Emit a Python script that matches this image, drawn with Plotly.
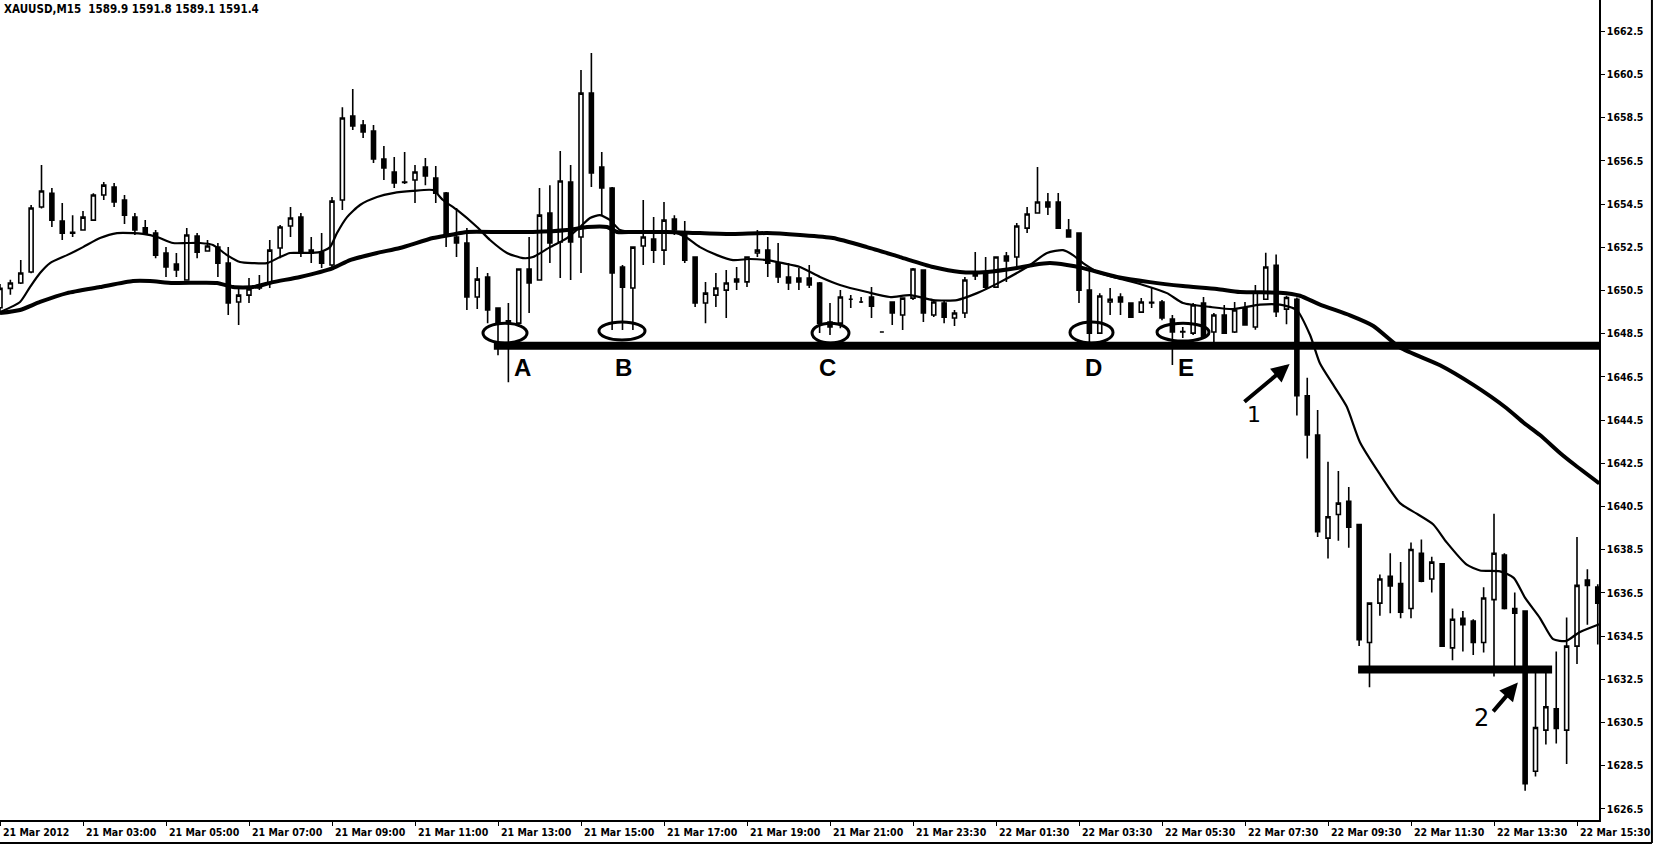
import plotly.graph_objects as go

# ---------------- data ----------------
bar_index = list(range(155))

opens = [1649.7, 1650.6, 1650.85, 1651.36, 1654.37, 1655.0, 1653.72, 1653.2, 1653.3, 1653.76,
         1654.92, 1655.29, 1654.69, 1653.9, 1653.4, 1653.16, 1652.24, 1651.73, 1650.99, 1653.02,
         1652.33, 1652.51, 1651.77, 1649.97, 1650.29, 1650.76, 1650.85, 1652.47, 1653.49, 1653.9,
         1652.37, 1652.28, 1651.68, 1654.69, 1658.58, 1658.16, 1657.88, 1656.59, 1655.99, 1655.52,
         1655.62, 1656.22, 1655.71, 1655.01, 1652.98, 1652.7, 1650.2, 1651.13, 1649.69, 1648.99,
         1648.99, 1651.5, 1650.99, 1654.09, 1652.75, 1655.52, 1652.98, 1659.64, 1656.22, 1655.25,
         1651.59, 1650.62, 1652.56, 1652.88, 1652.37, 1653.81, 1653.21, 1652.05, 1649.92, 1650.29,
         1650.52, 1650.9, 1650.9, 1652.24, 1652.37, 1651.77, 1651.13, 1651.08, 1651.08, 1650.85,
         1649.04, 1648.99, 1650.1, 1649.97, 1650.2, 1648.58, 1649.97, 1649.37, 1650.15, 1651.45,
         1649.37, 1649.92, 1649.23, 1649.46, 1651.17, 1651.31, 1650.66, 1652.1, 1652.05, 1653.39,
         1654.09, 1654.6, 1654.6, 1653.3, 1653.16, 1650.52, 1648.53, 1649.97, 1650.2, 1649.92,
         1649.5, 1649.92, 1649.97, 1649.18, 1648.58, 1648.53, 1649.92, 1648.58, 1649.37, 1648.58,
         1649.69, 1648.81, 1650.1, 1651.67, 1649.64, 1650.1, 1645.63, 1643.81, 1639.04, 1640.13,
         1640.74, 1639.67, 1634.21, 1636.03, 1637.27, 1636.94, 1635.78, 1638.34, 1637.15, 1637.85,
         1633.96, 1635.33, 1635.2, 1634.21, 1636.19, 1638.26, 1635.78, 1635.66, 1628.25, 1630.15,
         1631.14, 1630.15, 1634.04, 1637.1, 1636.77]

highs = [1650.8, 1651.0, 1651.91, 1654.46, 1656.31, 1655.25, 1654.55, 1653.99, 1654.18, 1655.0,
         1655.52, 1655.48, 1654.92, 1654.09, 1653.76, 1653.3, 1652.51, 1652.24, 1653.39, 1653.16,
         1652.84, 1652.7, 1652.51, 1650.66, 1651.08, 1651.22, 1652.84, 1653.53, 1654.37, 1654.09,
         1652.98, 1653.16, 1654.83, 1658.99, 1659.83, 1658.39, 1658.16, 1657.19, 1656.68, 1656.91,
         1656.31, 1656.63, 1656.26, 1655.06, 1654.32, 1653.39, 1651.59, 1651.31, 1649.69, 1649.92,
         1651.5, 1652.98, 1655.25, 1655.38, 1656.96, 1656.31, 1660.71, 1661.5, 1656.91, 1655.29,
         1651.68, 1652.51, 1654.69, 1653.9, 1654.6, 1653.99, 1653.72, 1652.05, 1650.9, 1651.31,
         1651.45, 1651.59, 1652.05, 1653.3, 1652.98, 1652.7, 1651.77, 1651.54, 1651.68, 1650.9,
         1649.92, 1650.52, 1650.29, 1650.2, 1650.66, 1648.58, 1649.97, 1650.15, 1651.54, 1651.45,
         1650.06, 1650.06, 1649.6, 1651.13, 1652.28, 1652.05, 1652.05, 1652.28, 1653.63, 1654.37,
         1656.22, 1655.01, 1655.01, 1653.81, 1653.16, 1651.45, 1650.38, 1650.62, 1650.38, 1649.92,
         1650.15, 1650.62, 1650.06, 1649.37, 1648.81, 1649.92, 1650.2, 1649.46, 1649.83, 1649.97,
         1649.97, 1650.76, 1652.25, 1652.17, 1650.26, 1650.18, 1646.46, 1644.97, 1642.57, 1642.15,
         1641.41, 1639.67, 1636.03, 1637.35, 1638.34, 1637.93, 1638.84, 1638.97, 1638.18, 1637.85,
         1635.78, 1635.66, 1635.28, 1636.77, 1640.17, 1638.34, 1636.52, 1635.7, 1632.88, 1632.8,
         1633.79, 1635.36, 1639.09, 1637.6, 1636.9]

lows = [1649.4, 1650.3, 1650.8, 1651.3, 1654.3, 1653.44, 1652.84, 1652.98, 1653.3, 1653.76,
        1654.69, 1654.37, 1653.58, 1653.07, 1653.07, 1652.0, 1651.13, 1651.13, 1650.99, 1652.0,
        1652.33, 1651.13, 1649.37, 1648.9, 1649.92, 1650.52, 1650.62, 1652.0, 1652.98, 1652.05,
        1651.77, 1651.54, 1651.59, 1654.23, 1657.93, 1657.56, 1656.4, 1655.62, 1655.25, 1655.43,
        1654.55, 1655.38, 1654.55, 1652.51, 1652.05, 1649.6, 1649.64, 1648.99, 1647.51, 1646.26,
        1648.81, 1649.46, 1650.99, 1651.77, 1651.08, 1650.99, 1651.31, 1655.29, 1653.99, 1648.67,
        1648.67, 1648.67, 1651.68, 1651.77, 1651.68, 1653.07, 1651.77, 1649.74, 1648.99, 1649.74,
        1649.23, 1650.52, 1650.66, 1652.05, 1651.13, 1650.85, 1650.52, 1650.52, 1650.62, 1648.53,
        1648.44, 1648.76, 1649.69, 1649.92, 1649.23, 1648.58, 1648.9, 1648.67, 1650.06, 1649.04,
        1649.27, 1648.99, 1648.86, 1649.23, 1650.99, 1650.52, 1650.62, 1650.9, 1651.54, 1653.16,
        1654.09, 1654.0, 1653.39, 1652.98, 1649.92, 1648.12, 1648.53, 1649.37, 1649.37, 1649.27,
        1649.46, 1649.69, 1649.13, 1647.05, 1648.3, 1648.44, 1648.35, 1648.12, 1648.53, 1648.53,
        1648.9, 1648.69, 1650.1, 1649.27, 1648.94, 1644.72, 1642.73, 1639.09, 1638.1, 1638.92,
        1638.59, 1634.04, 1632.14, 1635.45, 1635.56, 1635.33, 1635.33, 1637.0, 1636.52, 1634.04,
        1633.38, 1633.79, 1633.63, 1633.74, 1632.63, 1635.73, 1632.8, 1627.34, 1628.0, 1629.49,
        1629.53, 1628.58, 1633.21, 1635.03, 1634.12]

closes = [1650.6, 1650.85, 1651.31, 1654.32, 1655.11, 1653.76, 1653.16, 1653.15, 1653.9, 1654.92,
          1655.38, 1654.6, 1653.99, 1653.3, 1653.16, 1652.14, 1651.59, 1651.45, 1653.07, 1652.28,
          1652.56, 1651.77, 1649.92, 1650.29, 1650.57, 1650.62, 1652.37, 1653.44, 1653.86, 1652.24,
          1652.24, 1651.77, 1654.64, 1658.49, 1658.12, 1657.84, 1656.59, 1656.17, 1655.48, 1655.5,
          1655.99, 1655.8, 1655.01, 1653.07, 1652.7, 1650.2, 1651.03, 1649.6, 1648.99, 1649.1,
          1651.5, 1650.85, 1653.99, 1652.7, 1655.57, 1652.75, 1659.64, 1655.94, 1655.25, 1651.31,
          1650.66, 1652.51, 1652.98, 1652.37, 1653.76, 1653.3, 1651.91, 1649.92, 1650.38, 1650.62,
          1650.85, 1651.03, 1652.05, 1652.37, 1651.77, 1651.13, 1650.85, 1650.9, 1650.76, 1648.99,
          1648.81, 1650.2, 1650.1, 1649.97, 1649.78, 1648.58, 1649.46, 1650.15, 1651.5, 1649.46,
          1649.97, 1649.27, 1649.46, 1650.99, 1651.27, 1650.66, 1652.05, 1651.87, 1653.49, 1654.04,
          1654.6, 1654.37, 1653.39, 1652.98, 1650.52, 1648.53, 1650.25, 1650.1, 1649.97, 1649.27,
          1649.97, 1649.95, 1649.23, 1648.58, 1648.6, 1649.83, 1648.35, 1649.37, 1648.53, 1649.6,
          1648.91, 1650.43, 1651.59, 1649.52, 1650.18, 1645.63, 1643.81, 1639.34, 1640.03, 1640.66,
          1639.54, 1634.34, 1636.03, 1637.15, 1636.82, 1635.61, 1638.51, 1637.05, 1637.93, 1634.04,
          1635.28, 1635.03, 1634.21, 1636.27, 1638.34, 1635.78, 1635.56, 1627.67, 1630.27, 1631.23,
          1630.23, 1634.04, 1636.85, 1636.85, 1636.03]

# fast moving average (thin line), read at points along the curve
ma_fast_x = [0, 1.93, 2.89, 3.86, 4.82, 6.46, 8.0, 9.64, 11.28, 12.82, 13.78, 15.13, 16.67, 18.02,
             19.28, 20.53, 21.88, 23.13, 24.39, 25.73, 26.99, 27.95, 29.2, 30.84, 31.81, 32.48,
             33.45, 34.7, 36.34, 37.88, 39.8, 41.73, 42.7, 44.05, 45.98, 47.23, 48.87, 50.41,
             51.37, 53.01, 54.65, 55.9, 56.87, 57.83, 58.8, 59.76, 61.01, 62.94, 64.87, 66.22,
             67.47, 69.11, 70.65, 72.29, 73.93, 75.47, 77.11, 79.04, 80.96, 83.57, 85.78, 87.71,
             89.93, 92.24, 94.17, 96.39, 98.99, 100.92, 102.46, 103.42, 104.39, 106.02, 107.66,
             110.17, 112.48, 114.02, 116.63, 118.84, 121.45, 123.37, 124.98, 126.27, 127.23,
             128.51, 129.8, 131.08, 133.01, 134.94, 136.55, 138.15, 139.44, 141.37, 142.65,
             144.58, 145.9, 147.0, 148.43, 149.7, 150.96, 152.2, 154.15]
ma_fast_y = [1649.5, 1649.97, 1650.66, 1651.31, 1651.77, 1652.14, 1652.51, 1652.93, 1653.16, 1653.16,
             1653.12, 1652.98, 1652.7, 1652.7, 1652.7, 1652.61, 1652.14, 1651.82, 1651.77, 1651.77,
             1652.05, 1652.24, 1652.24, 1652.28, 1652.51, 1653.16, 1653.9, 1654.46, 1654.83, 1655.01,
             1655.11, 1655.15, 1654.69, 1654.23, 1653.44, 1652.84, 1652.24, 1652.0, 1652.05, 1652.51,
             1652.93, 1653.44, 1653.86, 1653.99, 1653.76, 1653.3, 1653.21, 1653.21, 1653.21, 1652.93,
             1652.51, 1652.14, 1651.91, 1651.96, 1651.91, 1651.77, 1651.59, 1651.13, 1650.76, 1650.43,
             1650.2, 1650.29, 1650.06, 1650.06, 1650.38, 1650.89, 1651.59, 1652.24, 1652.37, 1652.14,
             1651.77, 1651.31, 1651.08, 1650.76, 1650.38, 1649.92, 1649.74, 1649.64, 1649.85, 1649.85,
             1649.6, 1648.44, 1647.12, 1646.13, 1645.13, 1643.48, 1641.99, 1640.66, 1640.17, 1639.67,
             1638.84, 1637.81, 1637.54, 1637.5, 1637.2, 1636.27, 1635.34, 1634.36, 1634.28, 1634.67,
             1635.05]

# slow moving average (thick line)
ma_slow_x = [0, 1.93, 3.86, 6.46, 9.64, 12.82, 14.46, 16.67, 20.92, 22.46, 24.39, 26.31, 28.92,
             32.1, 33.73, 36.34, 38.55, 41.73, 43.37, 45.01, 48.19, 51.37, 54.65, 56.58, 58.51,
             59.47, 61.01, 64.29, 67.47, 70.65, 73.93, 77.11, 80.29, 83.57, 86.75, 89.93, 92.53,
             95.13, 98.02, 99.57, 101.2, 102.84, 104.39, 107.66, 110.84, 114.02, 117.3, 119.52,
             123.37, 125.3, 127.23, 130.12, 132.37, 134.94, 138.8, 142.01, 145.22, 146.83, 148.43,
             150.36, 151.65, 154.15]
ma_slow_y = [1649.46, 1649.6, 1649.97, 1650.38, 1650.66, 1650.94, 1650.94, 1650.85, 1650.85, 1650.66,
             1650.66, 1650.89, 1651.13, 1651.54, 1651.91, 1652.24, 1652.47, 1652.93, 1653.07, 1653.21,
             1653.21, 1653.21, 1653.3, 1653.44, 1653.44, 1653.21, 1653.21, 1653.21, 1653.16, 1653.12,
             1653.16, 1653.07, 1652.93, 1652.51, 1652.05, 1651.59, 1651.36, 1651.36, 1651.54, 1651.68,
             1651.77, 1651.68, 1651.54, 1651.13, 1650.89, 1650.71, 1650.57, 1650.43, 1650.4, 1650.26,
             1649.85, 1649.35, 1648.86, 1647.86, 1647.04, 1646.13, 1645.05, 1644.39, 1643.81, 1642.98,
             1642.48, 1641.57]

x_tick_bars = [0, 8, 16, 24, 32, 40, 48, 56, 64, 72, 80, 88, 96, 104, 112, 120, 128, 136, 144, 152]
x_tick_labels = ["21 Mar 2012", "21 Mar 03:00", "21 Mar 05:00", "21 Mar 07:00", "21 Mar 09:00",
                 "21 Mar 11:00", "21 Mar 13:00", "21 Mar 15:00", "21 Mar 17:00", "21 Mar 19:00",
                 "21 Mar 21:00", "21 Mar 23:30", "22 Mar 01:30", "22 Mar 03:30", "22 Mar 05:30",
                 "22 Mar 07:30", "22 Mar 09:30", "22 Mar 11:30", "22 Mar 13:30", "22 Mar 15:30"]
y_tick_vals = [1626.5, 1628.5, 1630.5, 1632.5, 1634.5, 1636.5, 1638.5, 1640.5, 1642.5, 1644.5,
               1646.5, 1648.5, 1650.5, 1652.5, 1654.5, 1656.5, 1658.5, 1660.5, 1662.5]

header_text = "XAUUSD,M15  1589.9 1591.8 1589.1 1591.4"

support_level = 1647.95
support_start = 47.6
lower_level = 1632.96
lower_start, lower_end = 130.9, 149.6

ellipse_labels = ["A", "B", "C", "D", "E"]
ellipse_x0 = [46.55, 57.73, 78.27, 103.13, 111.52]
ellipse_x1 = [50.8, 62.17, 81.83, 107.28, 116.53]
ellipse_y0 = [1648.07, 1648.21, 1648.07, 1648.07, 1648.16]
ellipse_y1 = [1648.99, 1649.04, 1648.99, 1649.04, 1648.99]
letter_x = [50.4, 60.05, 79.8, 105.35, 114.3]
letter_y = 1646.95

X_MAX = 154.12
Y_MIN, Y_MAX = 1625.99, 1663.95

# ---------------- figure ----------------
FONT = "DejaVu Sans Condensed, Liberation Sans Narrow, DejaVu Sans, sans-serif"

fig = go.Figure()
fig.add_trace(go.Candlestick(
    x=bar_index, open=opens, high=highs, low=lows, close=closes,
    increasing=dict(line=dict(color="black", width=1.6), fillcolor="white"),
    decreasing=dict(line=dict(color="black", width=1.6), fillcolor="black"),
    whiskerwidth=0, hoverinfo="skip", showlegend=False))

fig.add_trace(go.Scatter(x=ma_slow_x, y=ma_slow_y, mode="lines",
                         line=dict(color="black", width=4, shape="spline", smoothing=0.6),
                         hoverinfo="skip", showlegend=False))
fig.add_trace(go.Scatter(x=ma_fast_x, y=ma_fast_y, mode="lines",
                         line=dict(color="black", width=2.2, shape="spline", smoothing=0.6),
                         hoverinfo="skip", showlegend=False))

shapes = []
shapes.append(dict(type="line", xref="x", yref="y", x0=support_start, x1=X_MAX,
                   y0=support_level, y1=support_level, line=dict(color="black", width=8)))
shapes.append(dict(type="line", xref="x", yref="y", x0=lower_start, x1=lower_end,
                   y0=lower_level, y1=lower_level, line=dict(color="black", width=8)))
for i in range(len(ellipse_labels)):
    shapes.append(dict(type="circle", xref="x", yref="y",
                       x0=ellipse_x0[i], x1=ellipse_x1[i], y0=ellipse_y0[i], y1=ellipse_y1[i],
                       line=dict(color="black", width=3), fillcolor="rgba(0,0,0,0)"))
# outer window frame
shapes.append(dict(type="line", xref="paper", yref="paper", x0=0, x1=1.0331, y0=-0.028, y1=-0.028,
                   line=dict(color="black", width=2)))
shapes.append(dict(type="line", xref="paper", yref="paper", x0=1.0331, x1=1.0331, y0=-0.028, y1=1,
                   line=dict(color="black", width=2)))

annotations = []
for i, lab in enumerate(ellipse_labels):
    annotations.append(dict(x=letter_x[i], y=letter_y, xref="x", yref="y", text="<b>%s</b>" % lab,
                            showarrow=False, font=dict(family="Liberation Sans, Arial", size=24, color="black")))
annotations.append(dict(x=120.9, y=1644.74, xref="x", yref="y", text="1", showarrow=False,
                        font=dict(family="DejaVu Sans", size=22, color="black")))
annotations.append(dict(x=142.8, y=1630.72, xref="x", yref="y", text="2", showarrow=False,
                        font=dict(family="DejaVu Sans", size=24, color="black")))
annotations.append(dict(x=124.3, y=1647.1, ax=119.8, ay=1645.29, xref="x", yref="y",
                        axref="x", ayref="y", text="", showarrow=True, arrowhead=2,
                        arrowsize=0.9, arrowwidth=4, arrowcolor="black"))
annotations.append(dict(x=146.3, y=1632.35, ax=143.8, ay=1630.95, xref="x", yref="y",
                        axref="x", ayref="y", text="", showarrow=True, arrowhead=2,
                        arrowsize=0.9, arrowwidth=4, arrowcolor="black"))
for b, lab in zip(x_tick_bars, x_tick_labels):
    annotations.append(dict(x=b, y=0, xref="x", yref="paper", text=lab, showarrow=False,
                            xanchor="left", yanchor="top", xshift=1, yshift=-4,
                            font=dict(family=FONT, size=10.5, color="black", weight="bold")))
annotations.append(dict(x=0, y=1, xref="paper", yref="paper", text=header_text, showarrow=False,
                        xanchor="left", yanchor="top", xshift=2, yshift=0,
                        font=dict(family=FONT, size=11.5, color="black", weight="bold")))

fig.update_layout(
    width=1654, height=845,
    margin=dict(l=0, r=55, t=0, b=25),
    paper_bgcolor="white", plot_bgcolor="white",
    boxgap=0.45,
    shapes=shapes, annotations=annotations,
    showlegend=False,
    xaxis=dict(range=[0, X_MAX], rangeslider=dict(visible=False), showgrid=False, zeroline=False,
               tickvals=x_tick_bars, ticktext=[""] * len(x_tick_bars), ticks="outside", ticklen=4,
               tickcolor="black", showline=True, linecolor="black", linewidth=1.5, fixedrange=True),
    yaxis=dict(range=[Y_MIN, Y_MAX], side="right", showgrid=False, zeroline=False,
               tickvals=y_tick_vals, ticktext=["%.1f" % v for v in y_tick_vals],
               ticks="outside", ticklen=4, tickcolor="black", showline=True, linecolor="black",
               linewidth=1.5, tickfont=dict(family=FONT, size=10.5, color="black", weight="bold"),
               fixedrange=True),
)

fig.write_html("out.html", config={"displayModeBar": False},
               post_script="document.body.style.margin='0';document.body.style.padding='0';")
